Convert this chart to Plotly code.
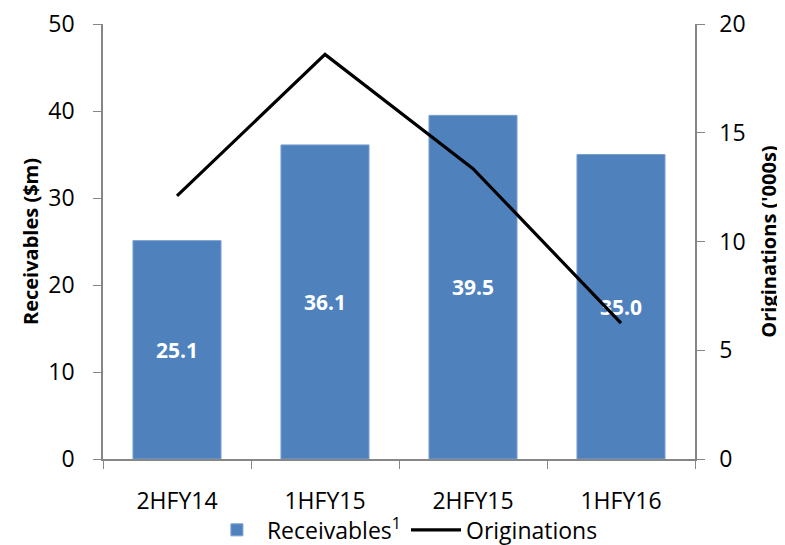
import plotly.graph_objects as go

categories = ["2HFY14", "1HFY15", "2HFY15", "1HFY16"]
receivables = [25.1, 36.1, 39.5, 35.0]
originations = [12.1, 18.6, 13.35, 6.25]
left_ticks = [0, 10, 20, 30, 40, 50]
right_ticks = [0, 5, 10, 15, 20]

FONT = "Open Sans"
AXIS_GREY = "#868686"

fig = go.Figure()
fig.add_trace(go.Bar(
    x=categories, y=receivables, name="Receivables<sup>1</sup>",
    marker=dict(color="#4F81BD", line=dict(color="#7A9FCF", width=1)),
    texttemplate="<b>%{y:.1f}</b>", textposition="inside", insidetextanchor="middle",
    textfont=dict(color="white", size=21, family=FONT),
    constraintext="none", cliponaxis=False,
))
fig.add_trace(go.Scatter(
    x=categories, y=originations, name="Originations", yaxis="y2",
    mode="lines", line=dict(color="black", width=3.2),
))

fig.update_layout(
    width=777, height=537,
    margin=dict(l=95, r=90, t=16, b=86, autoexpand=False),
    paper_bgcolor="white", plot_bgcolor="white",
    font=dict(family=FONT, size=23, color="black"),
    bargap=0.405,
    showlegend=True,
    legend=dict(orientation="h", x=0.51, xanchor="center", y=-0.163, yanchor="middle",
                font=dict(size=23), itemwidth=50, traceorder="normal",
                bgcolor="rgba(0,0,0,0)"),
    xaxis=dict(
        type="category", showline=True, linecolor=AXIS_GREY, linewidth=1.5,
        ticks="outside", tickson="boundaries", ticklen=8, tickcolor=AXIS_GREY,
        tickfont=dict(size=23), showgrid=False, ticklabelstandoff=21,
        automargin=False,
    ),
    yaxis=dict(
        range=[0, 50], tickvals=left_ticks, showline=True, linecolor=AXIS_GREY,
        linewidth=1.5, ticks="outside", ticklen=8, tickcolor=AXIS_GREY,
        showgrid=False, zeroline=False, tickfont=dict(size=23),
        ticklabelstandoff=14, automargin=False, ticklabeloverflow="allow",
        title=dict(text="<b>Receivables ($m)</b>", font=dict(size=20), standoff=4),
    ),
    yaxis2=dict(
        range=[0, 20], tickvals=right_ticks, overlaying="y", side="right",
        showline=True, linecolor=AXIS_GREY, linewidth=1.5, ticks="outside",
        ticklen=8, tickcolor=AXIS_GREY, showgrid=False, zeroline=False,
        tickfont=dict(size=23), ticklabelstandoff=10, automargin=False,
        ticklabeloverflow="allow",
        title=dict(text="<b>Originations ('000s)</b>", font=dict(size=20), standoff=17),
    ),
)

fig.write_html("out.html")
